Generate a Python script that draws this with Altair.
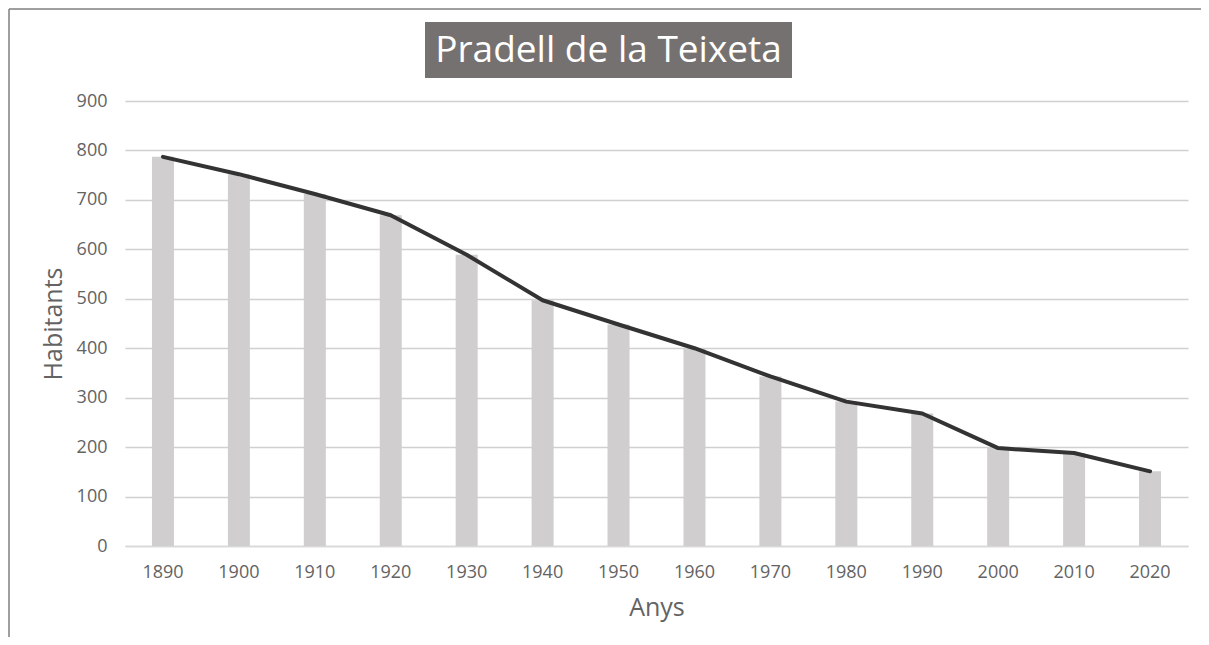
import altair as alt
import pandas as pd

years = ["1890", "1900", "1910", "1920", "1930", "1940", "1950",
         "1960", "1970", "1980", "1990", "2000", "2010", "2020"]
habitants = [787, 752, 712, 669, 589, 497, 448, 400, 343, 292, 268, 198, 188, 151]
title_text = "Pradell de la Teixeta"
x_title = "Anys"
y_title = "Habitants"
y_ticks = [0, 100, 200, 300, 400, 500, 600, 700, 800, 900]

df = pd.DataFrame({"Any": years, "Habitants": habitants})

W, H = 1063, 445
FONT = "Open Sans"
TXT = "#636363"

x_enc = alt.X(
    "Any:N", sort=years,
    scale=alt.Scale(paddingInner=0, paddingOuter=0),
    axis=alt.Axis(
        title=x_title, labelAngle=0, ticks=False, grid=False,
        domainColor="#d9d9d9", domainWidth=1.5,
        labelFont=FONT, labelFontSize=18, labelColor=TXT, labelPadding=17,
        titleFont=FONT, titleFontSize=25, titleFontWeight="normal", titleColor=TXT,
        titleX=W / 2, titleY=61, titleBaseline="middle", titleAlign="center",
    ),
)
y_enc = alt.Y(
    "Habitants:Q",
    scale=alt.Scale(domain=[0, 900], nice=False),
    axis=alt.Axis(
        title=y_title, values=y_ticks, ticks=False, domain=False,
        gridColor="#d0d0d0", gridWidth=1.5,
        labelFont=FONT, labelFontSize=18, labelColor=TXT, labelPadding=18,
        titleFont=FONT, titleFontSize=25, titleFontWeight="normal", titleColor=TXT,
        titleAngle=270, titleX=-72, titleY=H / 2, titleBaseline="middle", titleAlign="center",
    ),
)

base = alt.Chart(df)
bars = base.mark_bar(size=22, color="#d0cece").encode(x=x_enc, y=y_enc)
line = base.mark_line(color="#333333", strokeWidth=4, strokeCap="round", strokeJoin="round").encode(
    x=alt.X("Any:N", sort=years), y=alt.Y("Habitants:Q")
)

one = pd.DataFrame({"t": [title_text]})
title_box = alt.Chart(one).mark_rect(color="#767171").encode(
    x=alt.value(300), x2=alt.value(667), y=alt.value(-79), y2=alt.value(-23)
)
title_lbl = alt.Chart(one).mark_text(
    font=FONT, fontSize=37, color="white", align="center", baseline="middle"
).encode(x=alt.value(483.5), y=alt.value(-50), text="t:N")

border_top = alt.Chart(one).mark_rule(color="#7f7f7f", strokeWidth=1.5).encode(
    x=alt.value(-116), x2=alt.value(1090), y=alt.value(-92)
)
border_left = alt.Chart(one).mark_rule(color="#7f7f7f", strokeWidth=1.5).encode(
    x=alt.value(-116), y=alt.value(-92), y2=alt.value(560)
)

chart = alt.layer(bars, line, title_box, title_lbl, border_top, border_left).properties(
    width=W, height=H,
    autosize=alt.AutoSizeParams(type="none"),
    padding={"left": 117, "top": 93, "right": 13, "bottom": 91},
).configure(background="white").configure_view(stroke=None)

chart.save("out.html", embed_options={"renderer": "svg", "actions": False})
